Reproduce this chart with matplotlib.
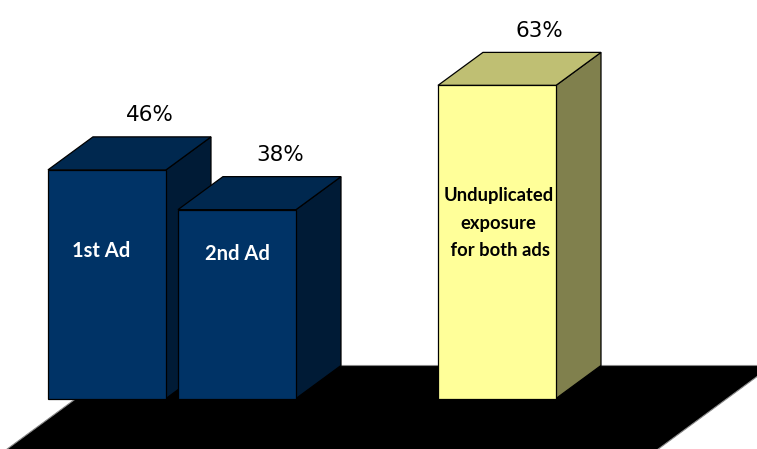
import matplotlib
matplotlib.use("Agg")
import matplotlib.pyplot as plt
from matplotlib.patches import Polygon

# ---- data ----
categories = ["1st Ad", "2nd Ad", "Unduplicated\nexposure\n for both ads"]
values = [46, 38, 63]
value_labels = ["46%", "38%", "63%"]

# ---- style / layout ----
positions = [0, 1, 3]
bar_w = 0.908
DX, DY = 0.346, 6.64          # depth offset of the 3D box
front_cols = ["#003366", "#003366", "#FFFF99"]
top_cols = ["#00284F", "#00284F", "#BFBF73"]
side_cols = ["#001B36", "#001B36", "#80804D"]
text_cols = ["white", "white", "black"]
inner_y = [29.7, 29.1, 35.3]
inner_dx = [-0.045, 0.0, 0.01]
inner_size = [14.5, 14.5, 13.2]

fig = plt.figure(figsize=(7.57, 4.49), dpi=100)
ax = fig.add_axes([0, 0, 1, 1])
ax.set_xlim(-0.823, 5.0)
ax.set_ylim(-10.16, 80.18)
ax.axis("off")

# floor (plane at value 0, depth from -3 to 1)
fx0, fx1 = -0.238, 4.77
d0, d1 = -3.0, 1.0
floor = Polygon([(fx0 + d0 * DX, d0 * DY), (fx1 + d0 * DX, d0 * DY),
                 (fx1 + d1 * DX, d1 * DY), (fx0 + d1 * DX, d1 * DY)],
                closed=True, facecolor="black", edgecolor="#888888", lw=0.8, zorder=1)
ax.add_patch(floor)

for i, (p, v) in enumerate(zip(positions, values)):
    x0 = p - bar_w / 2
    x1 = p + bar_w / 2
    ec = dict(edgecolor="black", lw=0.9, joinstyle="miter", zorder=2 + i)
    # side
    ax.add_patch(Polygon([(x1, 0), (x1 + DX, DY), (x1 + DX, v + DY), (x1, v)],
                         closed=True, facecolor=side_cols[i], **ec))
    # top
    ax.add_patch(Polygon([(x0, v), (x1, v), (x1 + DX, v + DY), (x0 + DX, v + DY)],
                         closed=True, facecolor=top_cols[i], **ec))
    # front
    ax.add_patch(Polygon([(x0, 0), (x1, 0), (x1, v), (x0, v)],
                         closed=True, facecolor=front_cols[i], **ec))
    # value label
    ax.text(p + DX * 0.95, v + DY + 4.4, value_labels[i], ha="center", va="center",
            fontsize=15.5, family="DejaVu Sans", color="black", zorder=10)
    # inner label
    ax.text(p + inner_dx[i], inner_y[i], categories[i], ha="center", va="center",
            multialignment="center", fontsize=inner_size[i],
            fontweight="bold", family="Lato", color=text_cols[i],
            linespacing=1.75, zorder=10)

fig.savefig("out.png", dpi=100)
